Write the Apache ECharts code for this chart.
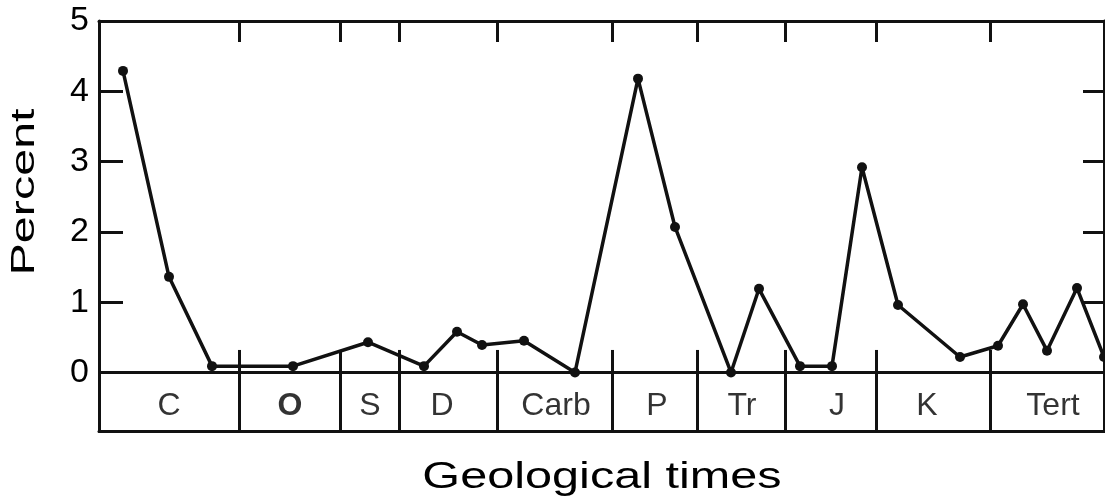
<!DOCTYPE html>
<html>
<head>
<meta charset="utf-8">
<script src="https://cdn.jsdelivr.net/npm/echarts@6/dist/echarts.min.js"></script>
<style>
  html, body { margin: 0; padding: 0; background: #fff; }
  #chart { width: 1105px; height: 502px; }
</style>
</head>
<body>
<div id="chart"></div>
<script>
// Position along the time axis (relative units across the plot width)
const pointX = [24, 70, 113, 194, 269, 325, 358, 383, 425, 476, 539, 576, 632, 660, 701, 733, 763, 799, 861, 899, 924, 948, 978, 1005];
const percentValues = [4.29, 1.36, 0.09, 0.09, 0.43, 0.09, 0.58, 0.39, 0.45, 0, 4.18, 2.07, 0, 1.19, 0.09, 0.09, 2.92, 0.96, 0.22, 0.38, 0.97, 0.31, 1.2, 0.22];

const periodNames = ['C', 'O', 'S', 'D', 'Carb', 'P', 'Tr', 'J', 'K', 'Tert'];
const periodLabelX = [70, 191, 271, 343, 457, 558, 643, 738, 828, 954];
const periodBoundaries = [140, 241, 300, 398, 513, 598, 686, 777, 891];

const yTickLabels = [0, 1, 2, 3, 4, 5];
const yInnerTicks = [1, 2, 3, 4];

const X_MAX = 1005;
const Y_MIN = -0.84;
const Y_MAX = 5;
const BAND_TOP = 0.32;
const LABEL_Y = -0.48;

const INK = '#111';
const FONT = '"Liberation Sans", Arial, sans-serif';

const chart = echarts.init(document.getElementById('chart'), null, { renderer: 'canvas' });

const lineData = pointX.map((x, i) => [x, percentValues[i]]);

const dividerLines = periodBoundaries.map(b => [
  { coord: [b, Y_MIN] },
  { coord: [b, BAND_TOP] }
]);

const labelData = periodNames.map((n, i) => ({
  name: n,
  value: [periodLabelX[i], LABEL_Y],
  label: n === 'O' ? { fontWeight: 'bold' } : {}
}));

const option = {
  animation: false,
  backgroundColor: '#fff',
  grid: { left: 99, right: 1, top: 21, bottom: 70.5, containLabel: false },
  xAxis: [
    {
      type: 'value', min: 0, max: X_MAX, position: 'bottom',
      axisLine: { show: true, onZero: false, lineStyle: { color: INK, width: 3 } },
      axisTick: { show: false }, axisLabel: { show: false }, splitLine: { show: false }
    },
    {
      type: 'value', min: 0, max: X_MAX, position: 'top',
      axisLine: { show: true, onZero: false, lineStyle: { color: INK, width: 3 } },
      axisTick: { show: true, inside: true, length: 21, customValues: periodBoundaries, lineStyle: { color: INK, width: 3 } },
      axisLabel: { show: false }, splitLine: { show: false }
    }
  ],
  yAxis: [
    {
      type: 'value', min: Y_MIN, max: Y_MAX, position: 'left',
      axisLine: { show: true, onZero: false, lineStyle: { color: INK, width: 3 } },
      axisTick: { show: true, inside: true, length: 24, customValues: yInnerTicks, lineStyle: { color: INK, width: 3 } },
      axisLabel: { show: true, customValues: yTickLabels, fontSize: 34, color: '#000', fontFamily: FONT, margin: 10 },
      splitLine: { show: false }
    },
    {
      type: 'value', min: Y_MIN, max: Y_MAX, position: 'right',
      axisLine: { show: true, onZero: false, lineStyle: { color: INK, width: 3 } },
      axisTick: { show: true, inside: true, length: 21, customValues: yInnerTicks, lineStyle: { color: INK, width: 3 } },
      axisLabel: { show: false }, splitLine: { show: false }
    }
  ],
  series: [
    {
      type: 'line',
      data: lineData,
      xAxisIndex: 0, yAxisIndex: 0,
      symbol: 'circle', symbolSize: 10,
      showAllSymbol: true,
      lineStyle: { color: INK, width: 3.5 },
      itemStyle: { color: INK },
      z: 5,
      markLine: {
        silent: true, symbol: ['none', 'none'],
        label: { show: false },
        lineStyle: { color: INK, width: 3, type: 'solid' },
        data: [{ yAxis: 0 }].concat(dividerLines)
      }
    },
    {
      type: 'scatter',
      data: labelData,
      symbolSize: 1,
      itemStyle: { color: 'rgba(0,0,0,0)' },
      silent: true,
      label: {
        show: true, position: 'inside', formatter: '{b}',
        fontSize: 32, color: '#000', fontFamily: FONT
      }
    }
  ],
  graphic: [
    {
      type: 'text', x: 25, y: 192, rotation: Math.PI / 2, scaleX: 1.47,
      style: { text: 'Percent', font: '33px "Liberation Sans", Arial, sans-serif', fill: '#000', textAlign: 'center', textVerticalAlign: 'middle' }
    },
    {
      type: 'text', x: 602, y: 478, scaleX: 1.35,
      style: { text: 'Geological times', font: '36px "Liberation Sans", Arial, sans-serif', fill: '#000', textAlign: 'center', textVerticalAlign: 'middle' }
    }
  ]
};

chart.setOption(option);
</script>
</body>
</html>
